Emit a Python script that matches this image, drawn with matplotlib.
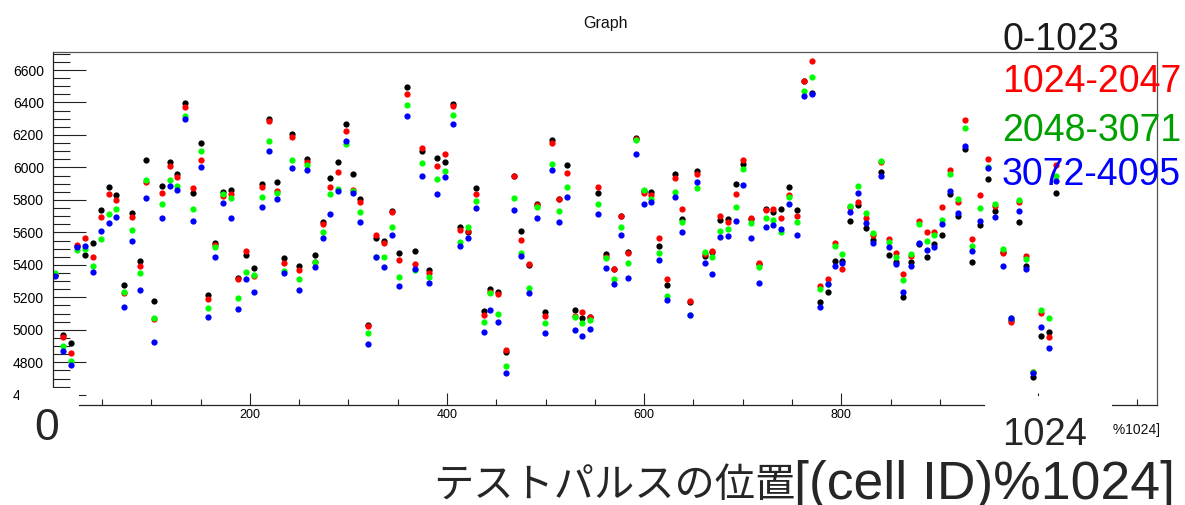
import matplotlib
matplotlib.use("Agg")
import matplotlib.pyplot as plt
from matplotlib.patches import Rectangle
from matplotlib.ticker import MultipleLocator, StrMethodFormatter

# Test-pulse position within the 1024-cell ring
cell_pos = [2, 10, 18, 25, 33, 41, 49, 57, 64, 72, 80, 88, 95, 103, 111, 119, 126, 134,
            142, 150, 157, 165, 173, 181, 188, 196, 204, 212, 219, 227, 235, 243, 250,
            258, 266, 274, 281, 289, 297, 305, 312, 320, 328, 336, 344, 351, 359, 367,
            375, 382, 390, 398, 406, 413, 421, 429, 437, 444, 452, 460, 468, 475, 483,
            491, 499, 506, 514, 522, 530, 537, 545, 553, 561, 569, 576, 584, 592, 600,
            607, 615, 623, 631, 638, 646, 654, 662, 669, 677, 685, 693, 700, 708, 716,
            724, 731, 739, 747, 755, 762, 770, 778, 786, 794, 801, 809, 817, 825, 832,
            840, 848, 856, 863, 871, 879, 887, 894, 902, 910, 918, 925, 933, 941, 949,
            956, 964, 972, 980, 987, 995, 1003, 1011, 1018]

# Peak values for each cell-ID block
cells_0_1023 = [5335, 4967, 4918, 5518, 5458, 5532, 5735, 5881, 5830, 5279, 5721, 5425,
                6047, 5175, 5885, 6033, 5959, 6395, 5844, 6152, 5214, 5536, 5850, 5863,
                5322, 5462, 5382, 5895, 6298, 5910, 5440, 6206, 5392, 6052, 5460, 5663,
                5935, 6033, 6267, 5957, 5807, 5029, 5567, 5548, 5729, 5476, 6497, 5487,
                6099, 5370, 6056, 6033, 6393, 5635, 5602, 5873, 5115, 5251, 5230, 4866,
                5947, 5606, 5398, 5774, 5109, 6169, 5807, 6015, 5123, 5072, 5082, 5842,
                5466, 5374, 5704, 5480, 6183, 5855, 5848, 5515, 5277, 5957, 5684, 5170,
                5978, 5452, 5478, 5676, 5684, 5895, 6021, 5685, 5405, 5743, 5725, 5743,
                5881, 5739, 6530, 6456, 5170, 5230, 5421, 5423, 5672, 5770, 5628, 5552,
                5971, 5458, 5415, 5203, 5417, 5530, 5450, 5526, 5581, 5836, 5700, 6111,
                5415, 5643, 5928, 5733, 5480, 5060, 5663, 5392, 4710, 4963, 4988, 5840]
cells_1024_2047 = [5335, 4957, 4860, 5522, 5563, 5446, 5696, 5838, 5799, 5228, 5696, 5392,
                   5910, 5064, 5842, 6008, 5943, 6374, 5871, 6043, 5191, 5525, 5824, 5836,
                   5310, 5485, 5331, 5879, 6288, 5858, 5411, 6187, 5368, 6035, 5417, 5653,
                   5877, 5971, 6226, 5861, 5789, 5023, 5587, 5536, 5725, 5429, 6450, 5407,
                   6117, 5351, 6008, 6084, 6380, 5612, 5610, 5834, 5094, 5232, 5220, 4875,
                   5949, 5552, 5407, 5768, 5088, 6148, 5803, 5965, 5084, 5107, 5078, 5877,
                   5450, 5374, 5702, 5476, 6175, 5842, 5832, 5565, 5316, 5937, 5743, 5175,
                   5961, 5470, 5483, 5700, 5663, 5834, 6047, 5688, 5409, 5741, 5743, 5686,
                   5832, 5700, 6534, 6655, 5271, 5312, 5536, 5376, 5755, 5790, 5688, 5583,
                   6031, 5561, 5472, 5341, 5454, 5670, 5602, 5600, 5758, 5982, 5785, 6294,
                   5559, 5830, 6054, 5765, 5474, 5049, 5787, 5456, 4740, 5103, 4953, 6015]
cells_2048_3071 = [5347, 4899, 4811, 5491, 5495, 5396, 5559, 5715, 5743, 5232, 5614, 5349,
                   5920, 5070, 5776, 5920, 5887, 6319, 5743, 6101, 5136, 5511, 5836, 5811,
                   5193, 5359, 5335, 5819, 6162, 5842, 5363, 6043, 5312, 6017, 5415, 5602,
                   5836, 5869, 6142, 5854, 5725, 4983, 5450, 5448, 5631, 5324, 6384, 5368,
                   6027, 5327, 5928, 5980, 6323, 5540, 5631, 5791, 5049, 5228, 5099, 4776,
                   5811, 5476, 5257, 5754, 5041, 6019, 5729, 5881, 5080, 5045, 5062, 5776,
                   5445, 5310, 5631, 5413, 6170, 5863, 5807, 5474, 5209, 5848, 5661, 5093,
                   5875, 5479, 5448, 5610, 5620, 5758, 5990, 5657, 5386, 5686, 5676, 5604,
                   5819, 5665, 6469, 6559, 5251, 5280, 5515, 5468, 5764, 5885, 5717, 5596,
                   6037, 5542, 5446, 5304, 5464, 5653, 5544, 5587, 5674, 5957, 5805, 6241,
                   5515, 5750, 6000, 5772, 5497, 5070, 5799, 5435, 4743, 5123, 5072, 5947]
cells_3072_4095 = [5331, 4868, 4786, 5511, 5515, 5359, 5606, 5655, 5696, 5140, 5548, 5244,
                   5813, 4922, 5690, 5885, 5863, 6298, 5672, 6000, 5076, 5446, 5780, 5690,
                   5127, 5316, 5236, 5754, 6099, 5805, 5349, 5994, 5244, 5986, 5388, 5567,
                   5715, 5856, 6165, 5840, 5667, 4912, 5446, 5388, 5581, 5269, 6317, 5376,
                   5947, 5287, 5838, 5943, 6265, 5515, 5567, 5748, 4988, 5121, 5049, 4733,
                   5737, 5454, 5226, 5686, 4979, 5986, 5667, 5815, 5000, 4965, 5004, 5715,
                   5378, 5283, 5581, 5320, 6084, 5776, 5787, 5433, 5185, 5815, 5602, 5090,
                   5908, 5411, 5345, 5571, 5577, 5672, 5889, 5563, 5287, 5635, 5643, 5620,
                   5776, 5581, 6440, 6452, 5140, 5283, 5392, 5409, 5723, 5844, 5657, 5532,
                   5947, 5509, 5405, 5230, 5392, 5536, 5489, 5511, 5653, 5856, 5717, 6132,
                   5487, 5672, 5994, 5696, 5396, 5072, 5729, 5374, 4733, 5016, 4891, 5918]

series_labels = ["0-1023", "1024-2047", "2048-3071", "3072-4095"]
marker_colors = ["#000000", "#ff0000", "#00ff00", "#0000ff"]
label_colors = ["#1a1a1a", "#ff0000", "#00a000", "#0000ff"]

W, H = 1185, 505
fig = plt.figure(figsize=(W / 100, H / 100), dpi=100)
fig.patch.set_facecolor("white")


def fx(px):
    return px / W


def fy(py):
    return 1 - py / H


left, right, top, bottom = 52.8, 1156.7, 52.0, 405.0
ax = fig.add_axes([fx(left), fy(bottom), fx(right) - fx(left), (bottom - top) / H])

for vals, col in zip([cells_0_1023, cells_1024_2047, cells_2048_3071, cells_3072_4095],
                     marker_colors):
    ax.plot(cell_pos, vals, linestyle="none", marker="o", markersize=4.5,
            markeredgewidth=0, color=col)

ax.set_xlim(0, 1120)
ax.set_ylim(4537, 6711)

ax.xaxis.set_major_locator(MultipleLocator(200))
ax.xaxis.set_minor_locator(MultipleLocator(50))
ax.yaxis.set_major_locator(MultipleLocator(200))
ax.yaxis.set_minor_locator(MultipleLocator(50))
ax.yaxis.set_major_formatter(StrMethodFormatter("{x:.0f}"))
ax.xaxis.set_major_formatter(StrMethodFormatter("{x:.0f}"))

ax.tick_params(axis="y", which="major", direction="in", length=23.8, width=0.8,
               labelsize=10, pad=6.5, color="#222222")
ax.tick_params(axis="y", which="minor", direction="in", length=12.2, width=0.8,
               color="#222222")
ax.tick_params(axis="x", which="major", direction="in", length=8.4, width=0.8,
               labelsize=9, pad=3, color="#222222")
ax.tick_params(axis="x", which="minor", direction="in", length=4.3, width=0.8,
               color="#222222")
for lab in ax.get_xticklabels() + ax.get_yticklabels():
    lab.set_fontfamily("Liberation Sans")

for side in ["left", "bottom"]:
    ax.spines[side].set_color("#222222")
    ax.spines[side].set_linewidth(0.9)
for side in ["top", "right"]:
    ax.spines[side].set_color("#555555")
    ax.spines[side].set_linewidth(0.9)

fig.text(fx(606), fy(28), "Graph", ha="center", va="baseline", fontsize=11.5,
         family="Liberation Sans", color="#111111")

# ROOT axis title, right aligned at the end of the x axis
fig.text(fx(1160), fy(434), "テストパルスの位置[(cell ID)%1024]", ha="right",
         va="baseline", fontsize=10, family=["Liberation Sans", "Noto Sans CJK JP"],
         color="#111111")

# white cover boxes over the axis ends
fig.add_artist(Rectangle((fx(19), fy(452)), fx(79) - fx(19), (452 - 388) / H,
                         transform=fig.transFigure, facecolor="white",
                         edgecolor="none", zorder=10))
fig.add_artist(Rectangle((fx(985), fy(455)), fx(1112) - fx(985), (455 - 396) / H,
                         transform=fig.transFigure, facecolor="white",
                         edgecolor="none", zorder=10))
fig.add_artist(Rectangle((fx(870), fy(455)), fx(1112) - fx(870), (455 - 418) / H,
                         transform=fig.transFigure, facecolor="white",
                         edgecolor="none", zorder=10))

big = dict(family="Liberation Sans", color="#262626", zorder=12, va="baseline")
fig.text(fx(47), fy(440), "0", ha="center", fontsize=32, **big)
fig.text(fx(1045), fy(445), "1024", ha="center", fontsize=27.5, **big)

legend_baselines = [50, 92, 141, 185]
for text, col, yb in zip(series_labels, label_colors, legend_baselines):
    fig.text(fx(1002), fy(yb), text, ha="left", va="baseline", fontsize=27,
             family="Liberation Sans", color=col, zorder=12)

fig.text(fx(795), fy(497), "テストパルスの位置", ha="right", va="baseline",
         fontsize=29, family="Noto Sans CJK JP", color="#262626", zorder=12)
fig.text(fx(794), fy(499), "[(cell ID)%1024]", ha="left", va="baseline",
         fontsize=38.5, family="Liberation Sans", color="#262626", zorder=12)

fig.savefig("out.png", dpi=100)
